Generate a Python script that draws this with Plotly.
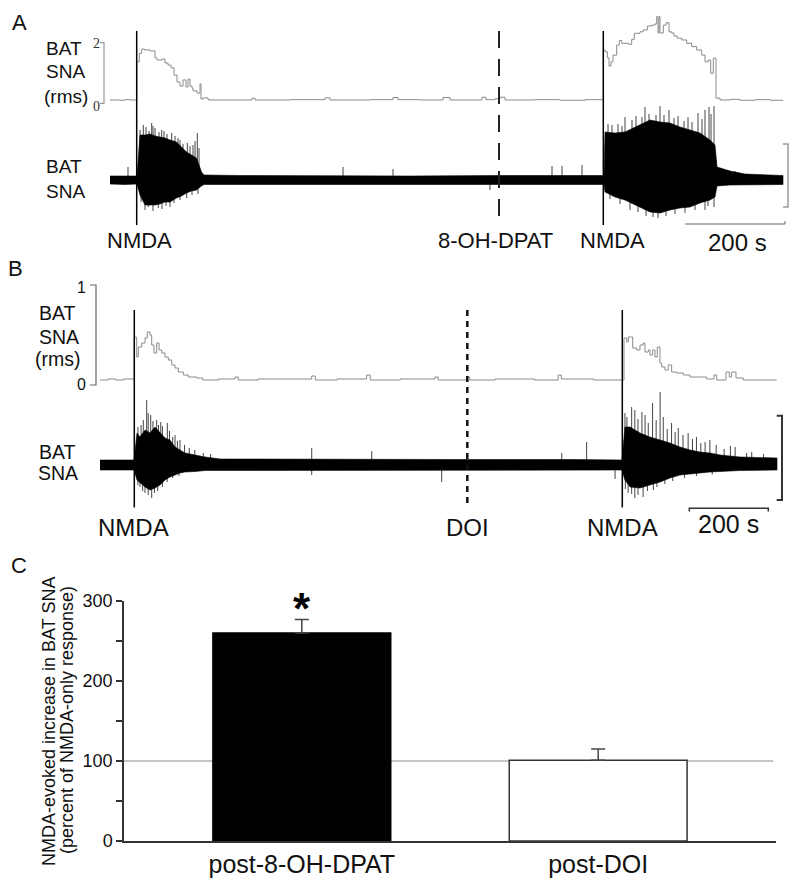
import plotly.graph_objects as go

W, H = 800, 887
FONT = "Liberation Sans, Arial, sans-serif"
SERIF = "Liberation Serif, Times New Roman, serif"

# ---------------- Panel A data (time in s, rms in a.u., raw in a.u.) ----------------
A_events_t = [53.4, 778.0, 986.6]
A_events_label = ["NMDA", "8-OH-DPAT", "NMDA"]
A_rms_t = [0, 20, 30, 40, 53.4, 58.6, 63.4, 68.6, 80, 90, 94, 104, 110, 116, 122, 128, 134, 140, 146,
           152, 156, 160, 164, 166, 174, 180, 182, 186, 196, 200, 250, 284, 290, 360, 430, 440, 520, 566,
           576, 620, 666, 680, 744, 752, 770, 780, 790, 850, 900, 950, 986.6, 990, 994.6, 998, 1002, 1006,
           1013.4, 1018.6, 1023.4, 1036.6, 1043.4, 1048.6, 1060, 1066.6, 1074.6, 1083.4, 1090, 1093.4,
           1096, 1098, 1100, 1106.6, 1112, 1118, 1123.4, 1128, 1134.6, 1143.4, 1153.4, 1163.4, 1173.4,
           1183.4, 1190, 1196.6, 1201.4, 1206.6, 1212, 1220, 1240, 1260, 1290, 1320, 1346]
A_rms_v = [0.11, 0.10, 0.12, 0.11, 1.37, 1.65, 1.79, 1.76, 1.73, 1.50, 1.43, 1.46, 1.33, 1.26, 1.17, 0.93,
           0.70, 0.57, 0.77, 0.54, 0.80, 0.57, 0.50, 0.41, 0.34, 0.64, 0.14, 0.18, 0.12, 0.11, 0.11, 0.17,
           0.11, 0.12, 0.18, 0.11, 0.12, 0.19, 0.12, 0.11, 0.19, 0.11, 0.20, 0.12, 0.15, 0.20, 0.11, 0.12,
           0.10, 0.12, 1.76, 1.70, 1.50, 1.23, 1.37, 1.59, 1.92, 2.07, 1.98, 1.95, 2.11, 2.31, 2.36, 2.42,
           2.55, 2.58, 2.62, 2.86, 2.32, 2.86, 2.32, 2.58, 2.66, 2.36, 2.32, 2.22, 2.15, 2.09, 1.98, 1.87,
           1.76, 1.59, 1.37, 1.43, 0.99, 1.49, 0.17, 0.11, 0.13, 0.10, 0.12, 0.10, 0.11, 0.11]
A_raw_t = [0, 30, 54, 60, 70, 80, 90, 100, 110, 120, 133, 143, 153, 163, 173, 183, 188, 260, 400, 600,
           778, 900, 988, 990, 1010, 1030, 1060, 1080, 1100, 1120, 1140, 1160, 1180, 1200, 1210, 1214,
           1240, 1270, 1346]
A_raw_hi = [0.4, 0.4, 0.4, 4.5, 4.5, 4.6, 4.4, 4.3, 4.2, 4.0, 3.8, 3.3, 2.8, 2.5, 2.2, 0.8, 0.5, 0.45,
            0.4, 0.4, 0.45, 0.45, 0.45, 4.8, 4.7, 4.8, 5.5, 6.0, 5.8, 5.7, 5.3, 5.0, 4.7, 4.0, 3.5, 1.3,
            0.9, 0.6, 0.45]
A_raw_lo = [-0.4, -0.45, -0.4, -1.5, -2.5, -2.5, -2.5, -2.4, -2.2, -2.2, -1.8, -1.6, -1.3, -1.1, -1.0,
            -0.6, -0.45, -0.45, -0.4, -0.4, -0.45, -0.45, -0.45, -1.2, -1.7, -2.0, -2.7, -3.2, -3.3, -3.0,
            -2.8, -2.7, -2.3, -2.0, -1.7, -0.6, -0.5, -0.45, -0.45]
A_spk_t = [36, 66.6, 83.4, 90, 103.4, 123.4, 140, 154.6, 174.6, 76.6, 96.6, 120, 153.4, 466, 566, 884,
           904, 944, 760, 1030, 1070, 1100, 1118, 1176, 1190, 1198, 1208, 1086, 1190, 1208,
           60, 72, 78, 86, 98, 108, 114, 130, 136, 146, 160, 166, 170, 178,
           62, 70, 86, 104, 112, 128, 140, 164, 176,
           996, 1004, 1016, 1024, 1044, 1052, 1064, 1078, 1092, 1108, 1128, 1136, 1148, 1156, 1164, 1184,
           1202, 1212, 1000, 1020, 1040, 1056, 1072, 1096, 1112, 1130, 1150, 1170, 1196, 1222, 1236, 1250]
A_spk_v = [1.3, 5.5, 5.7, 5.2, 5.0, 4.7, 4.0, 3.7, 4.7, -2.7, -2.8, -2.7, -1.8, 1.3, 1.1, 1.4, 1.4, 1.5,
           -1.0, 6.3, 7.3, 7.4, 7.0, 6.7, 7.0, 7.3, 7.4, -3.7, -3.0, -2.7,
           5.0, 5.3, 4.9, 5.4, 4.8, 4.9, 4.6, 4.4, 4.2, 3.6, 3.4, 3.5, 3.9, 3.2,
           -2.2, -3.0, -3.1, -2.9, -2.6, -2.3, -2.0, -1.5, -1.4,
           5.6, 5.5, 5.6, 5.4, 6.0, 6.4, 6.3, 6.6, 6.5, 6.5, 6.2, 6.4, 5.9, 6.3, 5.8, 6.1,
           6.6, 2.0, -1.9, -2.4, -3.0, -3.2, -3.6, -3.8, -3.6, -3.4, -3.3, -3.0, -2.6, 1.2, 1.0, 0.9]
A_scale_start, A_scale_len = 1150, 200

# ---------------- Panel B data ----------------
B_events_t = [86.8, 929.9, 1322.3]
B_events_label = ["NMDA", "DOI", "NMDA"]
B_rms_t = [0, 20, 40, 60, 86.8, 92.9, 97, 105.6, 113.9, 119.7, 126.6, 130.9, 136.7, 143.5, 149.4, 156.2,
           164.6, 172.9, 181.5, 189.9, 198.2, 210.9, 223.5, 244.8, 260, 300, 342, 350, 400, 536, 545, 600,
           675, 684, 760, 848, 856, 928, 936, 1000, 1100, 1160, 1168, 1250, 1322.3, 1326.6, 1333.4, 1337.5,
           1343.5, 1348.6, 1358.7, 1367.1, 1375.4, 1379.7, 1388.1, 1392.4, 1399.2, 1405.1, 1410.9, 1417.7,
           1422, 1430.4, 1438.7, 1447.3, 1460, 1476.7, 1493.7, 1514.7, 1535.9, 1554.4, 1561.3, 1584.8,
           1593.2, 1599.2, 1610.1, 1628.6, 1713]
B_rms_v = [0.05, 0.06, 0.05, 0.06, 0.48, 0.28, 0.38, 0.42, 0.47, 0.53, 0.50, 0.40, 0.32, 0.42, 0.35, 0.32,
           0.28, 0.25, 0.20, 0.17, 0.13, 0.10, 0.08, 0.07, 0.05, 0.06, 0.08, 0.05, 0.06, 0.09, 0.05, 0.06,
           0.10, 0.05, 0.06, 0.08, 0.05, 0.08, 0.05, 0.06, 0.05, 0.10, 0.06, 0.05, 0.05, 0.47, 0.43, 0.48,
           0.48, 0.37, 0.35, 0.40, 0.42, 0.33, 0.35, 0.30, 0.35, 0.28, 0.38, 0.22, 0.18, 0.15, 0.20, 0.13,
           0.12, 0.10, 0.08, 0.08, 0.06, 0.10, 0.05, 0.13, 0.08, 0.13, 0.07, 0.05, 0.05]
B_raw_t = [0, 40, 86, 93.7, 101, 114, 126.6, 139, 152, 164.6, 177, 190, 202.5, 215, 240.5, 266, 304, 600,
           900, 1200, 1321.5, 1329, 1342, 1367, 1392, 1418, 1443, 1468, 1494, 1519, 1544, 1570, 1620, 1714]
B_raw_hi = [0.5, 0.5, 0.5, 3.2, 2.8, 3.5, 3.2, 3.8, 3.2, 2.7, 2.5, 1.8, 1.5, 1.2, 1.0, 0.8, 0.6, 0.55,
            0.55, 0.55, 0.5, 3.8, 3.8, 3.2, 2.8, 2.5, 2.2, 1.8, 1.5, 1.3, 1.2, 1.0, 0.8, 0.7]
B_raw_lo = [-0.5, -0.5, -0.5, -1.5, -1.8, -2.2, -2.5, -2.3, -2.0, -1.5, -1.2, -1.0, -0.8, -0.7, -0.65,
            -0.55, -0.5, -0.5, -0.5, -0.5, -0.5, -1.5, -2.2, -2.3, -2.0, -1.7, -1.3, -1.0, -0.9, -0.8, -0.7,
            -0.6, -0.55, -0.5]
B_spk_t = [109.6, 118.2, 128.4, 143.5, 153.7, 170.4, 189.9, 202.5, 261.5, 101.3, 113.9, 130.9, 536, 536,
           688, 865, 1169, 1232, 1304, 1329, 1346, 1354, 1380, 1399, 1418, 1426, 1447, 1464, 1489, 1521,
           1544, 1608, 1637, 1337, 1354, 1375, 1401,
           96, 104, 122, 134, 148, 158, 176, 184, 196, 214, 226, 240, 280,
           96, 108, 122, 138, 146, 158, 170, 184, 200,
           1334, 1362, 1372, 1388, 1408, 1436, 1456, 1476, 1500, 1510, 1532, 1560, 1580, 1596, 1650, 1680,
           1330, 1346, 1362, 1386, 1410, 1430, 1450, 1480, 1510, 1550]
B_spk_v = [4.5, 6.5, 5.0, 4.5, 4.3, 4.2, 3.0, 2.5, 1.2, -2.2, -2.8, -3.3, 1.7, -1.0, 1.4, -1.7, 1.2, 2.3,
           -1.4, 5.2, 5.8, 5.5, 5.0, 6.2, 7.3, 4.8, 4.2, 3.7, 3.2, 2.2, 2.5, 1.8, 1.2, -2.8, -3.3, -3.2,
           -2.5,
           3.8, 4.0, 5.2, 4.4, 4.0, 3.9, 3.4, 2.8, 2.4, 2.0, 1.7, 1.5, 1.1,
           -2.0, -2.6, -3.0, -2.8, -2.6, -2.2, -1.7, -1.3, -1.1,
           4.8, 4.6, 5.3, 4.2, 4.5, 3.6, 3.3, 3.0, 2.6, 2.8, 2.3, 2.0, 1.6, 1.9, 1.3, 1.1,
           -2.4, -2.9, -3.0, -2.6, -2.2, -1.9, -1.6, -1.3, -1.1, -0.95]
B_scale_start, B_scale_len = 1492, 200

# ---------------- Panel C data ----------------
C_categories = ["post-8-OH-DPAT", "post-DOI"]
C_values = [260, 101]
C_sem = [17, 14]
C_ref = 100
C_ticks = [0, 50, 100, 150, 200, 250, 300]
C_tick_labels = ["0", "", "100", "", "200", "", "300"]
C_ytitle = ["NMDA-evoked increase in BAT SNA", "(percent of NMDA-only response)"]


# ---------------- helpers (layout geometry only) ----------------
def pdom(top_px, bot_px):
    return [1 - bot_px / H, 1 - top_px / H]


def prange(top_px, bot_px, zero_px, ppu):
    return [(zero_px - bot_px) / ppu, (zero_px - top_px) / ppu]


def py(px):
    return 1 - px / H


def pxx(px):
    return px / W


def envelope(t, hi, lo):
    return list(t) + list(t)[::-1], list(hi) + list(lo)[::-1]


def spikes(t, v):
    xs, ys = [], []
    for ti, vi in zip(t, v):
        xs += [ti, ti, None]
        ys += [0, vi, None]
    return xs, ys


fig = go.Figure()

# Panel A traces
sx, sy = spikes(A_spk_t, A_spk_v)
fig.add_trace(go.Scatter(x=sx, y=sy, mode="lines", line=dict(color="#444", width=1),
                         xaxis="x", yaxis="y2", hoverinfo="skip"))
ex, ey = envelope(A_raw_t, A_raw_hi, A_raw_lo)
fig.add_trace(go.Scatter(x=ex, y=ey, fill="toself", fillcolor="black", mode="lines",
                         line=dict(color="black", width=0.6), xaxis="x", yaxis="y2", hoverinfo="skip"))
fig.add_trace(go.Scatter(x=A_rms_t, y=A_rms_v, mode="lines", line=dict(color="#8a8a8a", width=1, shape="hv"),
                         xaxis="x", yaxis="y", hoverinfo="skip"))

# Panel B traces
sx, sy = spikes(B_spk_t, B_spk_v)
fig.add_trace(go.Scatter(x=sx, y=sy, mode="lines", line=dict(color="#444", width=1),
                         xaxis="x2", yaxis="y4", hoverinfo="skip"))
ex, ey = envelope(B_raw_t, B_raw_hi, B_raw_lo)
fig.add_trace(go.Scatter(x=ex, y=ey, fill="toself", fillcolor="black", mode="lines",
                         line=dict(color="black", width=0.6), xaxis="x2", yaxis="y4", hoverinfo="skip"))
fig.add_trace(go.Scatter(x=B_rms_t, y=B_rms_v, mode="lines", line=dict(color="#8a8a8a", width=1, shape="hv"),
                         xaxis="x2", yaxis="y3", hoverinfo="skip"))

# Panel C bars
fig.add_trace(go.Bar(x=C_categories, y=C_values, width=0.6,
                     marker=dict(color=["black", "white"], line=dict(color=["black", "#333"], width=1.5)),
                     error_y=dict(type="data", array=C_sem, arrayminus=[0, 0], symmetric=False,
                                  color="#444", thickness=1.5, width=7),
                     xaxis="x3", yaxis="y5", hoverinfo="skip"))

hidden = dict(visible=False, showgrid=False, zeroline=False, fixedrange=True, automargin=False)
A_top, A_bot = 0, 250
B_top, B_bot = 250, 545
fig.update_layout(
    width=W, height=H, margin=dict(l=0, r=0, t=0, b=0, pad=0, autoexpand=False), autosize=False,
    paper_bgcolor="white", plot_bgcolor="rgba(0,0,0,0)", showlegend=False,
    font=dict(family=FONT, color="#111"),
    xaxis=dict(domain=[0, 1], range=[-220, 1380], anchor="y", **hidden),
    yaxis=dict(domain=pdom(A_top, A_bot), range=prange(A_top, A_bot, 103.3, 30.3), anchor="x", **hidden),
    yaxis2=dict(overlaying="y", range=prange(A_top, A_bot, 180, 10), anchor="x", **hidden),
    xaxis2=dict(domain=[0, 1], range=[-253.2, 1772.2], anchor="y3", **hidden),
    yaxis3=dict(domain=pdom(B_top, B_bot), range=prange(B_top, B_bot, 385, 100), anchor="x2", **hidden),
    yaxis4=dict(overlaying="y3", range=prange(B_top, B_bot, 465, 10), anchor="x2", **hidden),
    xaxis3=dict(domain=[124 / W, 776 / W], range=[-0.6, 1.6], anchor="y5", type="category",
                showline=True, linecolor="#333", linewidth=1.5, ticks="", showgrid=False, zeroline=False,
                automargin=False, tickfont=dict(size=25, family=FONT, color="#111")),
    yaxis5=dict(domain=pdom(601, 841), range=[0, 300], anchor="x3", showline=True, linecolor="#333",
                linewidth=1.5, ticks="outside", ticklen=6, tickwidth=1.5, tickcolor="#333",
                tickvals=C_ticks, ticktext=C_tick_labels, showgrid=False, zeroline=False, automargin=False,
                tickfont=dict(size=18, family=FONT, color="#111")),
)

shapes = []
ann = []


def text(x, y, s, size, **kw):
    d = dict(x=pxx(x), y=py(y), xref="paper", yref="paper", text=s, showarrow=False,
             font=dict(size=size, family=kw.pop("family", FONT), color=kw.pop("color", "#111")),
             xanchor="center", yanchor="middle")
    d.update(kw)
    ann.append(d)


# event lines and labels
A_styles = [dict(color="black", width=1.5), dict(color="#222", width=2, dash="17px,11px"),
            dict(color="black", width=1.5)]
A_shift = [3, -4, 9]
for t, lab, st, sh in zip(A_events_t, A_events_label, A_styles, A_shift):
    shapes.append(dict(type="line", xref="x", yref="paper", x0=t, x1=t, y0=py(31), y1=py(225), line=st))
    ann.append(dict(x=t, y=py(240.5), xref="x", yref="paper", text=lab, showarrow=False, xshift=sh,
                    font=dict(size=22, family=FONT, color="#111"), xanchor="center", yanchor="middle"))
B_styles = [dict(color="black", width=1.5), dict(color="#111", width=2.5, dash="6px,5px"),
            dict(color="black", width=1.5)]
B_shift = [-1, 0, 0]
for t, lab, st, sh in zip(B_events_t, B_events_label, B_styles, B_shift):
    shapes.append(dict(type="line", xref="x2", yref="paper", x0=t, x1=t, y0=py(310), y1=py(507.5), line=st))
    ann.append(dict(x=t, y=py(527.5), xref="x2", yref="paper", text=lab, showarrow=False, xshift=sh,
                    font=dict(size=24, family=FONT, color="#111"), xanchor="center", yanchor="middle"))

# time scale bars
shapes.append(dict(type="line", xref="x", yref="paper", x0=A_scale_start, x1=A_scale_start + A_scale_len,
                   y0=py(224), y1=py(224), line=dict(color="#9a9a9a", width=1.5)))
shapes.append(dict(type="line", xref="x", yref="paper", x0=A_scale_start + A_scale_len,
                   x1=A_scale_start + A_scale_len, y0=py(221), y1=py(224), line=dict(color="#9a9a9a", width=1.5)))
ann.append(dict(x=A_scale_start + A_scale_len / 2, y=py(242), xref="x", yref="paper", text=f"{A_scale_len} s",
                showarrow=False, xshift=2, xanchor="center", yanchor="middle",
                font=dict(size=24, family=FONT, color="#111")))
shapes.append(dict(type="path", xref="x2", yref="paper",
                   path=f"M{B_scale_start},{py(511.5)} L{B_scale_start},{py(508.3)} "
                        f"L{B_scale_start + B_scale_len},{py(508.3)} L{B_scale_start + B_scale_len},{py(511.5)}",
                   line=dict(color="#333", width=1.5)))
ann.append(dict(x=B_scale_start + B_scale_len / 2, y=py(524), xref="x2", yref="paper", text=f"{B_scale_len} s",
                showarrow=False, xanchor="center", yanchor="middle",
                font=dict(size=25, family=FONT, color="#111")))

# amplitude brackets (raw)
shapes.append(dict(type="path", xref="paper", yref="paper",
                   path=f"M{pxx(783)},{py(144)} L{pxx(788)},{py(144)} L{pxx(788)},{py(207)} L{pxx(783)},{py(207)}",
                   line=dict(color="#9a9a9a", width=1.5)))
shapes.append(dict(type="path", xref="paper", yref="paper",
                   path=f"M{pxx(776.7)},{py(415.7)} L{pxx(782)},{py(415.7)} L{pxx(782)},{py(500)} L{pxx(776.7)},{py(500)}",
                   line=dict(color="#333", width=2)))

# rms scale brackets
shapes.append(dict(type="path", xref="paper", yref="y",
                   path=f"M{pxx(100)},2 L{pxx(104)},2 L{pxx(104)},0 L{pxx(100)},0",
                   line=dict(color="#9a9a9a", width=1.2)))
ann.append(dict(x=pxx(96), y=2, xref="paper", yref="y", text="2", showarrow=False, yshift=-1,
                xanchor="center", yanchor="middle", font=dict(size=14, family=SERIF, color="#333")))
ann.append(dict(x=pxx(96), y=0, xref="paper", yref="y", text="0", showarrow=False, yshift=-3,
                xanchor="center", yanchor="middle", font=dict(size=14, family=SERIF, color="#333")))
shapes.append(dict(type="path", xref="paper", yref="y3",
                   path=f"M{pxx(90)},1 L{pxx(96)},1 L{pxx(96)},0 L{pxx(90)},0",
                   line=dict(color="#666", width=1.2)))
ann.append(dict(x=pxx(81), y=1, xref="paper", yref="y3", text="1", showarrow=False, yshift=-2,
                xanchor="center", yanchor="middle", font=dict(size=16, family=FONT, color="#111")))
ann.append(dict(x=pxx(81), y=0, xref="paper", yref="y3", text="0", showarrow=False, yshift=1,
                xanchor="center", yanchor="middle", font=dict(size=16, family=FONT, color="#111")))

# side labels
text(19.5, 22.5, "A", 22)
text(15, 268, "B", 22)
text(18.5, 565, "C", 22)
text(64, 48.3, "BAT", 19)
text(65.5, 71.7, "SNA", 19)
text(65.5, 96.5, "(rms)", 19)
text(64, 166.7, "BAT", 19)
text(65, 191.7, "SNA", 19)
text(58, 313, "BAT", 19.5)
text(58.5, 337, "SNA", 19.5)
text(58, 359, "(rms)", 19.5)
text(58, 452, "BAT", 19.5)
text(58, 473, "SNA", 19.5)

# Panel C extras
shapes.append(dict(type="line", xref="x3", yref="y5", x0=-0.6, x1=1.59, y0=C_ref, y1=C_ref,
                   line=dict(color="#8a8a8a", width=1), layer="below"))
ann.append(dict(x=C_categories[0], y=C_values[0] + C_sem[0], xref="x3", yref="y5", text="<b>*</b>",
                showarrow=False, xanchor="center", yanchor="bottom", yshift=-16,
                font=dict(size=44, family=FONT, color="black")))
text(49, 722, C_ytitle[0], 18, textangle=-90)
text(67, 720, C_ytitle[1], 18, textangle=-90)

fig.update_layout(shapes=shapes, annotations=ann)

# the page body has a default 8px margin; remove it so the figure sits at the window origin
fig.write_html("out.html", config={"displayModeBar": False},
               post_script="document.body.style.margin='0';")
